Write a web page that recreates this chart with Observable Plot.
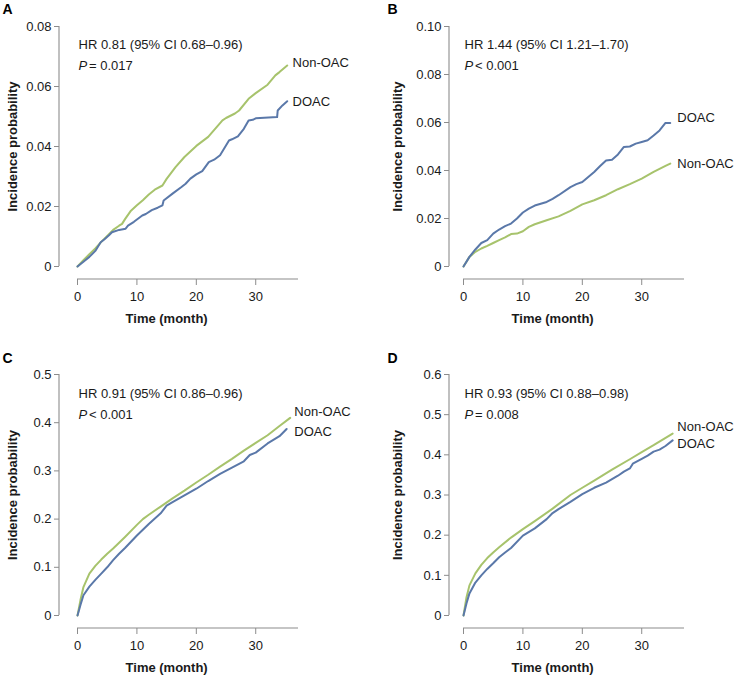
<!DOCTYPE html>
<html>
<head>
<meta charset="utf-8">
<script src="https://cdn.jsdelivr.net/npm/d3@7"></script>
<script src="https://cdn.jsdelivr.net/npm/@observablehq/plot@0.6"></script>
<style>
  body { margin: 0; background: #fff; }
  #root { position: relative; width: 735px; height: 675px; background: #fff;
          font-family: "Liberation Sans", Arial, Helvetica, sans-serif; }
  .panel { position: absolute; }
</style>
</head>
<body>
<div id="root"></div>
<script>
// ---------- DATA ----------
const seriesNames = ["Non-OAC", "DOAC"];
const xTicks = [0, 10, 20, 30];
const xMax = 37.2;

// Panel A
const aNonMonths = [0,1,2,3,4,5,6,7,7.5,8,9,10,11,12,13,14.3,15,16.5,18,20,22,24.4,25,26.5,27.2,28.8,30,32,33.3,34,35.3];
const aNonValues = [0,0.0021,0.0041,0.006,0.0082,0.0102,0.0122,0.0136,0.0142,0.0158,0.0186,0.0204,0.0221,0.024,0.0256,0.027,0.0292,0.0331,0.0365,0.0402,0.0432,0.0487,0.0495,0.051,0.052,0.0559,0.0578,0.0606,0.0637,0.0648,0.067];
const aDoacMonths = [0,1,2,3,3.9,4.5,5.3,5.8,7,8.1,8.5,9.5,10.9,11.5,12.5,13.5,14.3,14.5,16,17.5,18.2,19,20,21,22.1,23,24,25.5,26,27,28,28.8,29.5,30,33.6,33.7,34.5,35.3];
const aDoacValues = [0,0.0016,0.0032,0.0052,0.0081,0.009,0.0104,0.0114,0.0122,0.0126,0.0136,0.0149,0.017,0.0175,0.0188,0.0196,0.0204,0.022,0.0243,0.0265,0.0276,0.0293,0.0307,0.0318,0.0348,0.0356,0.0371,0.042,0.0424,0.0434,0.0459,0.0487,0.0489,0.0494,0.0498,0.052,0.0537,0.0551];
const aYTicks = [0, 0.02, 0.04, 0.06, 0.08];
const aYTickLabels = ["0", "0.02", "0.04", "0.06", "0.08"];
const aHR = "HR 0.81 (95% CI 0.68–0.96)";
const aP = "= 0.017";
const aLabelMonth = 36.2;
const aLabelValues = [0.068, 0.055]; // Non-OAC, DOAC

// Panel B
const bNonMonths = [0,1,2,3,4,5,6,7,8,9,10,11,12,14,16,18,20,22,24,26,28,30,32,34,34.8];
const bNonValues = [0,0.004,0.0061,0.0075,0.0086,0.0098,0.011,0.0121,0.0135,0.0137,0.0147,0.0165,0.0176,0.0193,0.0209,0.0232,0.0259,0.0276,0.0297,0.0322,0.0343,0.0366,0.0394,0.0419,0.0429];
const bDoacMonths = [0,1,2,3,4,5,6,7,8,9,10,11,12,14,15,16,18,19,20,21,22,23,24,25,26,27,28,29,30,31,32,33,34,34.8];
const bDoacValues = [0,0.004,0.0071,0.0098,0.011,0.0137,0.0154,0.0168,0.0179,0.02,0.0225,0.0241,0.0254,0.0269,0.0282,0.0297,0.0331,0.0343,0.0352,0.0373,0.0394,0.0419,0.0442,0.0445,0.0467,0.0498,0.05,0.0512,0.0519,0.0526,0.0546,0.0567,0.0598,0.0598];
const bYTicks = [0, 0.02, 0.04, 0.06, 0.08, 0.10];
const bYTickLabels = ["0", "0.02", "0.04", "0.06", "0.08", "0.10"];
const bHR = "HR 1.44 (95% CI 1.21–1.70)";
const bP = "< 0.001";
const bLabelMonth = 36.0;
const bLabelValues = [0.0429, 0.0621];

// Panel C
const cNonMonths = [0,0.5,1,2,3,4,5,6,8,10,11,12,14,16,18,20,22,24,26,28,30,32,34,35.8];
const cNonValues = [0,0.032,0.059,0.087,0.103,0.116,0.128,0.139,0.163,0.188,0.2,0.209,0.226,0.243,0.259,0.276,0.292,0.309,0.325,0.342,0.358,0.374,0.393,0.41];
const cDoacMonths = [0,0.5,1,2,3,4,5,6,7,8,10,12,14,15,16,18,20,22,24,26,28,29,30,32,34,35.2];
const cDoacValues = [0,0.022,0.042,0.06,0.074,0.087,0.1,0.115,0.128,0.14,0.166,0.19,0.212,0.228,0.235,0.249,0.263,0.279,0.294,0.307,0.32,0.333,0.338,0.357,0.372,0.387];
const cYTicks = [0, 0.1, 0.2, 0.3, 0.4, 0.5];
const cYTickLabels = ["0", "0.1", "0.2", "0.3", "0.4", "0.5"];
const cHR = "HR 0.91 (95% CI 0.86–0.96)";
const cP = "< 0.001";
const cLabelMonth = 36.5;
const cLabelValues = [0.423, 0.382];

// Panel D
const dNonMonths = [0,0.5,1,2,3,4,5,6,8,10,12,15,18,20,22,25,28,30,32,35.2];
const dNonValues = [0,0.045,0.075,0.105,0.126,0.143,0.157,0.17,0.194,0.215,0.235,0.266,0.3,0.318,0.336,0.363,0.389,0.407,0.424,0.453];
const dDoacMonths = [0,0.5,1,2,3,4,5,6,7,8,10,12,14,15,16,18,20,22,24,26,27,28,28.5,30,31,32,33,34,35.2];
const dDoacValues = [0,0.03,0.055,0.082,0.1,0.116,0.13,0.145,0.157,0.168,0.199,0.217,0.24,0.255,0.265,0.283,0.302,0.318,0.331,0.348,0.358,0.366,0.378,0.39,0.398,0.408,0.413,0.422,0.436];
const dYTicks = [0, 0.1, 0.2, 0.3, 0.4, 0.5, 0.6];
const dYTickLabels = ["0", "0.1", "0.2", "0.3", "0.4", "0.5", "0.6"];
const dHR = "HR 0.93 (95% CI 0.88–0.98)";
const dP = "= 0.008";
const dLabelMonth = 36.0;
const dLabelValues = [0.4705, 0.428];

// ---------- STYLE / LAYOUT ----------
const GREEN = "#a7c36c";
const BLUE = "#5a78a9";
const AXIS = "#8c8c8c";
const TXT = "#1a1a1a";
const FONT = "13px";

const toRows = (ms, vs) => ms.map((m, i) => ({m, v: vs[i]}));

const panels = [
  {letter: "A", left: 0, top: 0, W: 367, H: 330, axX: 59, x0: 77, xEnd: 298, yTop: 26, y0: 266, axY: 279,
   non: toRows(aNonMonths, aNonValues), doac: toRows(aDoacMonths, aDoacValues),
   yTicks: aYTicks, yLabels: aYTickLabels, hr: aHR, p: aP, lm: aLabelMonth, lv: aLabelValues},
  {letter: "B", left: 370, top: 0, W: 365, H: 330, axX: 79, x0: 93, xEnd: 314, yTop: 26, y0: 266, axY: 279,
   non: toRows(bNonMonths, bNonValues), doac: toRows(bDoacMonths, bDoacValues),
   yTicks: bYTicks, yLabels: bYTickLabels, hr: bHR, p: bP, lm: bLabelMonth, lv: bLabelValues},
  {letter: "C", left: 0, top: 330, W: 367, H: 345, axX: 59, x0: 77, xEnd: 298, yTop: 44, y0: 285, axY: 298,
   non: toRows(cNonMonths, cNonValues), doac: toRows(cDoacMonths, cDoacValues),
   yTicks: cYTicks, yLabels: cYTickLabels, hr: cHR, p: cP, lm: cLabelMonth, lv: cLabelValues},
  {letter: "D", left: 370, top: 330, W: 365, H: 345, axX: 79, x0: 93, xEnd: 314, yTop: 44, y0: 285, axY: 298,
   non: toRows(dNonMonths, dNonValues), doac: toRows(dDoacMonths, dDoacValues),
   yTicks: dYTicks, yLabels: dYTickLabels, hr: dHR, p: dP, lm: dLabelMonth, lv: dLabelValues}
];

const root = document.getElementById("root");

for (const c of panels) {
  const mL = c.axX, mT = c.yTop, mB = c.H - c.axY, mR = c.W - c.xEnd;
  const yMax = c.yTicks[c.yTicks.length - 1];
  const frameMidX = (mL + c.W - mR) / 2;
  const frameMidY = (mT + c.H - mB) / 2;
  const textX = c.x0 + 1; // annotation left edge
  const top2 = c.letter < "C";
  const labels = seriesNames.map((name, i) => ({name, m: c.lm, v: c.lv[i]}));

  const axisLines = (index, scales, values, dims) => {
    const g = d3.create("svg:g").attr("stroke", AXIS).attr("stroke-width", 1.1).attr("fill", "none");
    g.append("line")
      .attr("x1", dims.marginLeft).attr("x2", dims.marginLeft)
      .attr("y1", scales.y(0)).attr("y2", scales.y(yMax));
    g.append("line")
      .attr("y1", dims.height - dims.marginBottom).attr("y2", dims.height - dims.marginBottom)
      .attr("x1", scales.x(0)).attr("x2", scales.x(xMax));
    return g.node();
  };

  const svg = Plot.plot({
    width: c.W, height: c.H,
    marginLeft: mL, marginRight: mR, marginTop: mT, marginBottom: mB,
    style: {fontFamily: '"Liberation Sans", Arial, Helvetica, sans-serif', fontSize: FONT, background: "transparent", overflow: "visible"},
    x: {type: "linear", domain: [0, xMax], range: [c.x0, c.xEnd]},
    y: {type: "linear", domain: [0, yMax], range: [c.y0, c.yTop]},
    marks: [
      axisLines,
      Plot.axisY(c.yTicks, {anchor: "left", tickSize: 5, tickPadding: 3, stroke: AXIS, fill: TXT, fontSize: 13,
        tickFormat: d => c.yLabels[c.yTicks.indexOf(d)], label: null}),
      Plot.axisX(xTicks, {anchor: "bottom", tickSize: 6, tickPadding: 6, stroke: AXIS, fill: TXT, fontSize: 13,
        tickFormat: d => String(d), label: null}),
      Plot.line(c.non, {x: "m", y: "v", stroke: GREEN, strokeWidth: 2}),
      Plot.line(c.doac, {x: "m", y: "v", stroke: BLUE, strokeWidth: 2}),
      Plot.text(labels, {x: "m", y: "v", text: "name", textAnchor: "start", lineAnchor: "middle", fill: TXT, fontSize: 13}),
      // annotations
      Plot.text([c.hr], {frameAnchor: "top-left", dx: textX - mL, dy: (top2 ? 44 : 63) - mT,
        textAnchor: "start", lineAnchor: "middle", fill: TXT, fontSize: 13}),
      Plot.text(["P"], {frameAnchor: "top-left", dx: textX - mL, dy: (top2 ? 65 : 84) - mT,
        textAnchor: "start", lineAnchor: "middle", fill: TXT, fontSize: 13, fontStyle: "italic"}),
      Plot.text([c.p], {frameAnchor: "top-left", dx: textX - mL + 10.5, dy: (top2 ? 65 : 84) - mT,
        textAnchor: "start", lineAnchor: "middle", fill: TXT, fontSize: 13}),
      // axis titles
      Plot.text(["Incidence probability"], {frameAnchor: "left", rotate: -90,
        dx: (c.axX === 59 ? 12 : 27) - mL, dy: ((c.yTop + c.y0) / 2) - frameMidY,
        textAnchor: "middle", lineAnchor: "middle", fontWeight: "bold", fill: TXT, fontSize: 13}),
      Plot.text(["Time (month)"], {frameAnchor: "bottom",
        dx: (c.x0 + (c.xEnd - c.x0) * 15 / xMax) - frameMidX, dy: 39,
        textAnchor: "middle", lineAnchor: "middle", fontWeight: "bold", fill: TXT, fontSize: 13}),
      // panel letter
      Plot.text([c.letter], {frameAnchor: "top-left", dx: (c.axX === 59 ? 2 : 17) - mL,
        dy: (top2 ? 9 : 28) - mT,
        textAnchor: "start", lineAnchor: "middle", fontWeight: "bold", fill: "#000", fontSize: 14})
    ]
  });
  const div = document.createElement("div");
  div.className = "panel";
  div.style.left = c.left + "px";
  div.style.top = c.top + "px";
  div.appendChild(svg);
  root.appendChild(div);
}
</script>
</body>
</html>
